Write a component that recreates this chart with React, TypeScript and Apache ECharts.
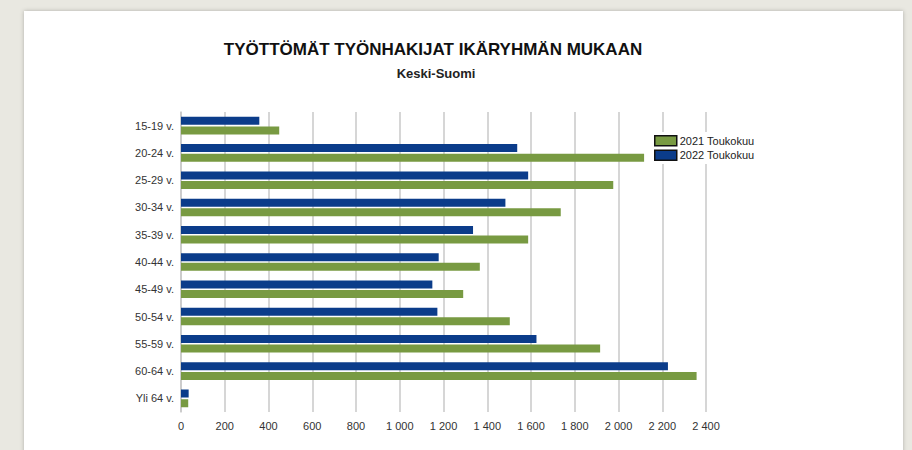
import React, { useEffect, useRef } from "react";
import * as echarts from "echarts";

const categories = [
  "15-19 v.",
  "20-24 v.",
  "25-29 v.",
  "30-34 v.",
  "35-39 v.",
  "40-44 v.",
  "45-49 v.",
  "50-54 v.",
  "55-59 v.",
  "60-64 v.",
  "Yli 64 v.",
];
const series2021 = [449, 2117, 1976, 1736, 1587, 1366, 1290, 1503, 1916, 2357, 33];
const series2022 = [358, 1537, 1587, 1483, 1335, 1178, 1149, 1172, 1625, 2226, 35];
const seriesNames = ["2021 Toukokuu", "2022 Toukokuu"];
const titleText = "TYÖTTÖMÄT TYÖNHAKIJAT IKÄRYHMÄN MUKAAN";
const subtitleText = "Keski-Suomi";

const GREEN = "#789a42";
const BLUE = "#0b3c8a";
const FONT = "'Liberation Sans', Arial, sans-serif";

export default function App() {
  const ref = useRef<HTMLDivElement>(null);
  useEffect(() => {
    if (!ref.current) return;
    const chart = echarts.init(ref.current, null, { renderer: "svg" });
    chart.setOption({
      animation: false,
      textStyle: { fontFamily: FONT },
      title: [
        {
          text: titleText,
          left: 428,
          top: 36,
          textAlign: "center",
          textStyle: { fontSize: 17, fontWeight: "bold", color: "#111", fontFamily: FONT },
        },
        {
          text: subtitleText,
          left: 431,
          top: 62,
          textAlign: "center",
          textStyle: { fontSize: 13, fontWeight: "bold", color: "#222", fontFamily: FONT },
        },
      ],
      legend: {
        data: seriesNames,
        orient: "vertical",
        left: 650,
        top: 132,
        itemWidth: 22,
        itemHeight: 10,
        itemGap: 3,
        padding: [3, 4, 3, 4],
        backgroundColor: "#ffffff",
        icon: "rect",
        textStyle: { fontSize: 11, color: "#222", fontFamily: FONT, padding: [0, 0, 0, -2] },
        itemStyle: { borderColor: "#111", borderWidth: 1.5 },
      },
      grid: { left: 181, top: 112, width: 525, height: 300, containLabel: false },
      xAxis: {
        type: "value",
        min: 0,
        max: 2400,
        interval: 200,
        axisLine: { show: false },
        axisTick: { show: false },
        splitLine: { show: true, lineStyle: { color: "#c9c9c9", width: 1.5 } },
        axisLabel: {
          fontSize: 11,
          color: "#333",
          margin: 8,
          formatter: (v: number) =>
            v >= 1000 ? `${Math.floor(v / 1000)} ${String(v % 1000).padStart(3, "0")}` : String(v),
        },
      },
      yAxis: {
        type: "category",
        data: categories,
        inverse: true,
        axisLine: { show: true, lineStyle: { color: "#c9c9c9", width: 1.5 } },
        axisTick: { show: false },
        axisLabel: { fontSize: 11, color: "#333", margin: 7 },
      },
      series: [
        {
          name: seriesNames[1],
          type: "bar",
          data: series2022,
          barWidth: 8,
          barGap: "20%",
          itemStyle: { color: BLUE },
        },
        {
          name: seriesNames[0],
          type: "bar",
          data: series2021,
          barWidth: 8,
          barGap: "20%",
          itemStyle: { color: GREEN },
        },
      ],
    });
    return () => chart.dispose();
  }, []);

  return (
    <div
      style={{
        position: "fixed",
        left: 0,
        top: 0,
        width: 912,
        height: 450,
        background: "#e9e8e1",
        overflow: "hidden",
      }}
    >
      <div
        style={{
          position: "absolute",
          left: 24,
          top: 11,
          width: 879,
          height: 460,
          background: "#ffffff",
          boxShadow: "0 0 4px rgba(0,0,0,0.25)",
        }}
      />
      <div ref={ref} style={{ position: "absolute", left: 0, top: 0, width: 912, height: 450 }} />
    </div>
  );
}
